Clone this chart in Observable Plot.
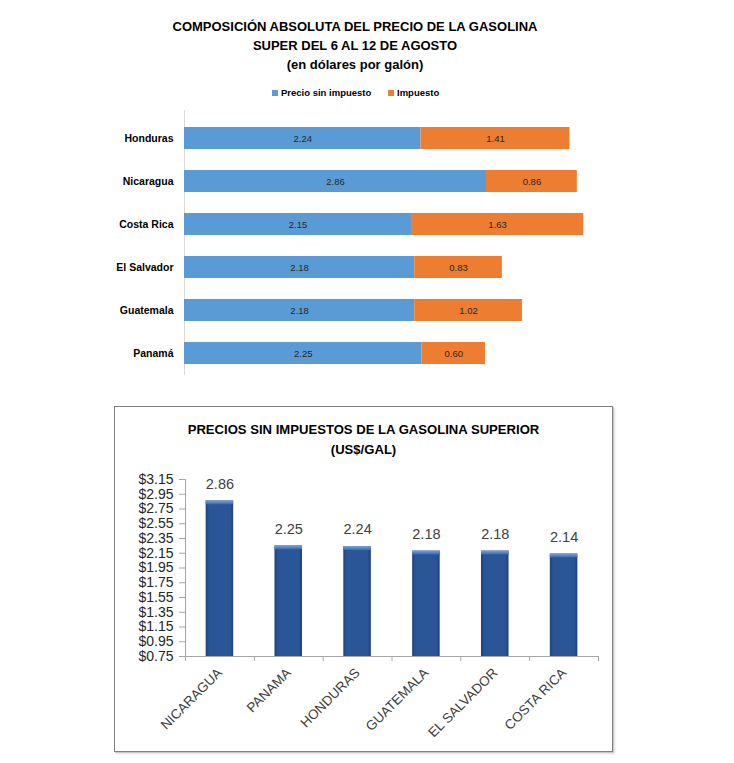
<!DOCTYPE html>
<html><head><meta charset="utf-8">
<script src="https://cdn.jsdelivr.net/npm/d3@7"></script>
<script src="https://cdn.jsdelivr.net/npm/@observablehq/plot@0.6"></script>
<style>
body{margin:0;background:#fff;font-family:"Liberation Sans",Arial,sans-serif;}
#wrap{position:relative;width:734px;height:763px;overflow:hidden;background:#fff;}
.abs{position:absolute;}
.title{font-weight:bold;text-align:center;color:#000;}
.leg-sq{position:absolute;width:6px;height:6px;}
.leg-tx{position:absolute;font-size:9.5px;font-weight:bold;line-height:12px;color:#000;white-space:nowrap;}
#box{position:absolute;left:114px;top:406px;width:499px;height:346px;box-sizing:border-box;border:1.5px solid #808080;box-shadow:1px 1px 0 #c8c8c8,2px 2px 2px #e0e0e0;}
</style></head><body><div id="wrap">
<div class="abs title" style="left:0;top:17px;width:710px;font-size:13px;line-height:19px;">COMPOSICIÓN ABSOLUTA DEL PRECIO DE LA GASOLINA<br>SUPER DEL 6 AL 12 DE AGOSTO<br>(en dólares por galón)</div>
<div id="legend"></div>
<div id="topchart" class="abs" style="left:0;top:105px;"></div>
<div id="box"></div>
<div class="abs title" style="left:114px;top:420px;width:499px;font-size:13.1px;line-height:20px;">PRECIOS SIN IMPUESTOS DE LA GASOLINA SUPERIOR<br>(US$/GAL)</div>
<div id="botchart" class="abs" style="left:114px;top:406px;"></div>
</div>
<script>
// ---- Data: top chart ----
const countries = ["Honduras", "Nicaragua", "Costa Rica", "El Salvador", "Guatemala", "Panamá"];
const precioSinImpuesto = [2.24, 2.86, 2.15, 2.18, 2.18, 2.25];
const impuesto = [1.41, 0.86, 1.63, 0.83, 1.02, 0.60];
const seriesNames = ["Precio sin impuesto", "Impuesto"];
const seriesColors = ["#5B9BD5", "#ED7D31"];

// ---- Data: bottom chart ----
const paises = ["NICARAGUA", "PANAMA", "HONDURAS", "GUATEMALA", "EL SALVADOR", "COSTA RICA"];
const preciosSinImp = [2.86, 2.25, 2.24, 2.18, 2.18, 2.14];
const yTicks = [0.75, 0.95, 1.15, 1.35, 1.55, 1.75, 1.95, 2.15, 2.35, 2.55, 2.75, 2.95, 3.15];

const FONT = "Liberation Sans, Arial, sans-serif";

// Legend
const legend = document.getElementById("legend");
const legPos = [[272, 281], [388, 397]];
seriesNames.forEach((s, i) => {
  const sq = document.createElement("div");
  sq.className = "leg-sq";
  sq.style.left = legPos[i][0] + "px"; sq.style.top = "90px"; sq.style.background = seriesColors[i];
  const tx = document.createElement("div");
  tx.className = "leg-tx";
  tx.style.left = legPos[i][1] + "px"; tx.style.top = "87px"; tx.textContent = s;
  legend.appendChild(sq); legend.appendChild(tx);
});

// Top chart
const long = [];
countries.forEach((c, i) => {
  long.push({country: c, type: seriesNames[0], value: precioSinImpuesto[i]});
  long.push({country: c, type: seriesNames[1], value: impuesto[i]});
});
const topPlot = Plot.plot({
  width: 734, height: 280,
  marginLeft: 184, marginRight: 127.6, marginTop: 22, marginBottom: 21,
  style: {fontFamily: FONT, background: "transparent", overflow: "visible"},
  x: {domain: [0, 4], axis: null},
  y: {domain: countries, paddingInner: 0.488, paddingOuter: 0, round: false, axis: null},
  color: {domain: seriesNames, range: seriesColors},
  marks: [
    Plot.ruleX([0], {stroke: "#d9d9d9", insetTop: -17, insetBottom: -11}),
    Plot.barX(long, Plot.stackX({x: "value", y: "country", z: "type", fill: "type"})),
    Plot.textX(long, Plot.stackX({x: "value", y: "country", z: "type", text: d => d.value.toFixed(2), fill: "#262626", fontSize: 9.5})),
    Plot.axisY({tickSize: 0, tickPadding: 11, fontWeight: "bold", fontSize: 10.5, fill: "#000", label: null})
  ]
});
document.getElementById("topchart").appendChild(topPlot);

// Bottom chart
const botData = paises.map((p, i) => ({pais: p, value: preciosSinImp[i]}));
const botPlot = Plot.plot({
  width: 499, height: 346,
  marginLeft: 71, marginRight: 15, marginTop: 73, marginBottom: 96,
  style: {fontFamily: FONT, background: "transparent", overflow: "visible"},
  x: {domain: paises, paddingInner: 0.6, paddingOuter: 0.3, round: false, axis: null},
  y: {domain: [yTicks[0], yTicks[yTicks.length - 1]], axis: null},
  marks: [
    Plot.ruleY([yTicks[0]], {stroke: "#a6a6a6"}),
    Plot.barY(botData, {x: "pais", y1: () => yTicks[0], y2: "value", fill: "url(#barGrad)"}),
    Plot.barY(botData, {x: "pais", y1: "value", y2: "value", insetBottom: -4, fill: "url(#capGrad)"}),
    Plot.text(botData, {x: "pais", y: "value", text: d => d.value.toFixed(2), dy: -17, fontSize: 14.5, fill: "#404040"}),
    Plot.axisY({ticks: yTicks, tickFormat: d => "$" + d.toFixed(2), tickSize: 6, tickPadding: 6, fontSize: 14, fill: "#262626", stroke: "#a6a6a6", label: null}),
    Plot.axisX({tickRotate: -45, tickSize: 0, tickPadding: 14, fontSize: 13.5, fill: "#404040", label: null})
  ]
});
const bsel = d3.select(botPlot);
bsel.insert("defs", ":first-child").html(
  '<linearGradient id="barGrad" x1="0" y1="0" x2="1" y2="0">' +
  '<stop offset="0" stop-color="#1c427b"/><stop offset="0.12" stop-color="#2a5596"/>' +
  '<stop offset="0.88" stop-color="#2a5596"/><stop offset="1" stop-color="#1c427b"/></linearGradient>' +
  '<linearGradient id="capGrad" x1="0" y1="0" x2="0" y2="1">' +
  '<stop offset="0" stop-color="#7ea3d8"/><stop offset="1" stop-color="#3a67a9"/></linearGradient>'
);
const xs = botPlot.scale("x"), ys = botPlot.scale("y");
const y0 = ys.apply(yTicks[0]), yTop = ys.apply(yTicks[yTicks.length - 1]);
const g = bsel.append("g").attr("stroke", "#a6a6a6").attr("stroke-width", 1);
g.append("line").attr("x1", xs.range[0] + 0.5).attr("x2", xs.range[0] + 0.5).attr("y1", yTop).attr("y2", y0);
const bounds = paises.map(p => xs.apply(p) + xs.bandwidth / 2 - xs.step / 2);
bounds.push(bounds[bounds.length - 1] + xs.step);
bounds.forEach(b => g.append("line").attr("x1", b + 0.5).attr("x2", b + 0.5).attr("y1", y0).attr("y2", y0 + 5));
document.getElementById("botchart").appendChild(botPlot);
</script>
</body></html>
